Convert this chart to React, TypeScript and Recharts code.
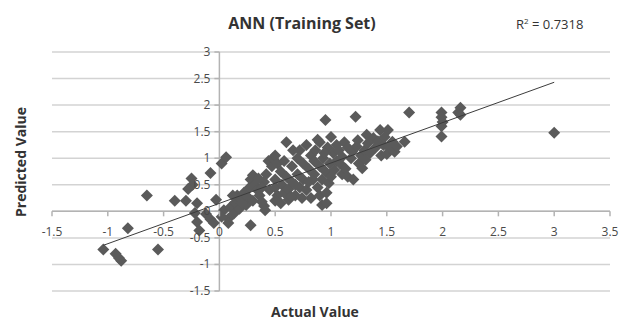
import React from 'react';
import {
  ScatterChart,
  Scatter,
  XAxis,
  YAxis,
  CartesianGrid,
  ReferenceLine,
} from 'recharts';

const xTicks = [-1.5, -1, -0.5, 0, 0.5, 1, 1.5, 2, 2.5, 3, 3.5];
const yTicks = [-1.5, -1, -0.5, 0, 0.5, 1, 1.5, 2, 2.5, 3];

const actual = [
  -1.04, -0.93, -0.9, -0.88, -0.82, -0.65, -0.55, -0.4, -0.3, -0.25, -0.24, -0.28,
  -0.2, -0.22, -0.2, -0.18, -0.12, -0.08, -0.05, -0.03, -0.08, 0.02, 0.06, 0.04, 0.08, 0.1, 0.14, 0.13, 0.08, 0.02,
  0.16, 0.2, 0.22, 0.25, 0.27, 0.28, 0.3, 0.32, 0.34, 0.36, 0.38, 0.4, 0.41, 0.28, 0.18, 0.24, 0.3, 0.35, 0.4, 0.42, 0.44, 0.45, 0.38, 0.12, 0.2,
  0.47, 0.48, 0.5, 0.52, 0.5, 0.5, 0.52, 0.5, 0.55, 0.56, 0.58, 0.58, 0.6, 0.6, 0.62, 0.62, 0.65, 0.65, 0.66, 0.68, 0.7, 0.7, 0.72, 0.72, 0.74, 0.75, 0.75, 0.55, 0.64, 0.68,
  0.78, 0.78, 0.8, 0.8, 0.82, 0.82, 0.85, 0.85, 0.86, 0.88, 0.88, 0.9, 0.9, 0.9, 0.92, 0.92, 0.93, 0.95, 0.95, 0.96, 0.96, 0.97, 0.98, 0.99, 1.0, 1.0, 1.02, 1.03, 1.05, 1.05, 0.84, 0.94,
  1.07, 1.08, 1.1, 1.1, 1.12, 1.13, 1.15, 1.15, 1.18, 1.19, 1.2, 1.22, 1.23, 1.24, 1.25, 1.27, 1.28, 1.3, 1.31, 1.32, 1.33, 1.35,
  1.38, 1.4, 1.42, 1.44, 1.45, 1.47, 1.48, 1.5, 1.51, 1.52, 1.55, 1.57, 1.59, 1.66, 1.7,
  1.99, 1.99, 2.0, 1.99, 1.99, 2.14, 2.16, 2.16, 3.0,
];

const predicted = [
  -0.72, -0.8, -0.88, -0.93, -0.32, 0.3, -0.72, 0.2, 0.2, 0.62, 0.5, 0.42,
  0.15, -0.03, -0.2, -0.36, -0.05, -0.15, -0.22, 0.22, 0.72, 0.9, 1.02, 0.02, -0.14, 0.08, 0.16, -0.04, -0.22, -0.1,
  0.3, 0.22, 0.35, 0.28, 0.45, 0.6, 0.68, 0.5, 0.4, 0.3, 0.18, 0.1, 0.02, -0.26, 0.05, 0.12, 0.2, 0.62, 0.55, 0.7, 0.95, 0.4, 0.45, 0.3, 0.15,
  0.85, 1.0, 1.05, 0.9, 0.6, 0.45, 0.3, 0.2, 0.75, 0.5, 0.35, 0.95, 0.65, 1.3, 0.22, 0.42, 0.55, 0.85, 1.15, 0.3, 0.7, 1.0, 0.45, 1.15, 0.25, 0.6, 0.9, 0.15, 0.28, 0.5,
  1.25, 0.4, 0.8, 0.55, 1.05, 0.25, 0.7, 0.95, 1.15, 0.45, 1.35, 0.3, 0.85, 1.3, 0.12, 0.6, 1.0, 1.72, 0.75, 0.35, 0.15, 1.2, 0.53, 0.9, 1.4, 0.65, 1.1, 0.78, 1.25, 0.95, 0.6, 1.1,
  1.15, 0.9, 1.03, 0.7, 1.3, 0.8, 1.2, 0.65, 1.0, 1.12, 0.6, 1.78, 1.22, 1.34, 0.9, 1.05, 0.81, 1.15, 0.97, 1.44, 1.28, 1.1,
  1.38, 1.2, 1.32, 1.53, 1.05, 1.25, 1.4, 1.08, 1.53, 1.2, 1.31, 1.12, 1.22, 1.31, 1.86,
  1.86, 1.77, 1.68, 1.6, 1.41, 1.86, 1.95, 1.82, 1.48,
];

// linear trendline end points
const trendX = [-1.04, 3.0];
const trendY = [-0.64, 2.43];

const points = actual.map((x, i) => ({ x, y: predicted[i] }));
const trend = trendX.map((x, i) => ({ x, y: trendY[i] }));

const W = 621;
const H = 320;
const AXIS_W = 20;
const AXIS_H = 20;
const M = { top: 52, right: 11, bottom: 29 - AXIS_H, left: 52 - AXIS_W };
const PLOT_LEFT = 52;
const PLOT_BOTTOM = 29;
const X_MIN = -1.5;
const X_MAX = 3.5;
const Y_MIN = -1.5;
const Y_MAX = 3;
const plotW = W - PLOT_LEFT - M.right;
const plotH = H - M.top - PLOT_BOTTOM;
// where the axes cross (Excel style, at zero)
const x0 = PLOT_LEFT + ((0 - X_MIN) / (X_MAX - X_MIN)) * plotW;
const y0 = M.top + ((Y_MAX - 0) / (Y_MAX - Y_MIN)) * plotH;

const FONT = '"Open Sans", "Noto Sans", sans-serif';
const TICK_COLOR = '#4a4a4a';
const AXIS_COLOR = '#b3b3b3';

function XTick(props: any) {
  const { x, payload } = props;
  return (
    <g>
      <line x1={x} y1={y0} x2={x} y2={y0 + 5} stroke={AXIS_COLOR} strokeWidth={1.5} />
      <text x={x} y={y0 + 25} textAnchor="middle" fontSize={12} fontFamily={FONT} fill={TICK_COLOR}>
        {String(payload.value)}
      </text>
    </g>
  );
}

function YTick(props: any) {
  const { y, payload } = props;
  return (
    <g>
      <line x1={x0 - 5} y1={y} x2={x0} y2={y} stroke={AXIS_COLOR} strokeWidth={1.5} />
      <text x={x0 - 9} y={y + 4} textAnchor="end" fontSize={12} fontFamily={FONT} fill={TICK_COLOR}>
        {String(payload.value)}
      </text>
    </g>
  );
}

function Diamond(props: any) {
  const { cx, cy } = props;
  const r = 6;
  return (
    <polygon
      points={`${cx},${cy - r} ${cx + r},${cy} ${cx},${cy + r} ${cx - r},${cy}`}
      fill="#5a5a5a"
    />
  );
}

export default function App() {
  return (
    <div style={{ width: W, height: H, position: 'relative', background: '#fff' }}>
      <style>{'body{margin:0}'}</style>
      <ScatterChart width={W} height={H} margin={M}>
        <CartesianGrid vertical={false} stroke="#d3d3d3" strokeWidth={1.5} />
        <XAxis
          type="number"
          dataKey="x"
          domain={[X_MIN, X_MAX]}
          ticks={xTicks}
          height={AXIS_H}
          axisLine={false}
          tickLine={false}
          tick={<XTick />}
          interval={0}
        />
        <YAxis
          type="number"
          dataKey="y"
          domain={[Y_MIN, Y_MAX]}
          ticks={yTicks}
          width={AXIS_W}
          axisLine={false}
          tickLine={false}
          tick={<YTick />}
          interval={0}
        />
        <ReferenceLine y={0} stroke={AXIS_COLOR} strokeWidth={1.5} />
        <ReferenceLine x={0} stroke={AXIS_COLOR} strokeWidth={1.5} />
        <Scatter data={points} shape={<Diamond />} isAnimationActive={false} />
        <Scatter
          data={trend}
          line={{ stroke: '#3c3c3c', strokeWidth: 1 }}
          shape={() => <g />}
          isAnimationActive={false}
        />
      </ScatterChart>
      <div
        style={{
          position: 'absolute',
          left: 302,
          top: 12,
          transform: 'translateX(-50%)',
          fontFamily: FONT,
          fontWeight: 700,
          fontSize: 16,
          color: '#333',
          whiteSpace: 'nowrap',
        }}
      >
        ANN (Training Set)
      </div>
      <div
        style={{
          position: 'absolute',
          left: 516,
          top: 15,
          fontFamily: FONT,
          fontSize: 13,
          color: '#333',
          whiteSpace: 'nowrap',
        }}
      >
        R<sup style={{ fontSize: 8 }}>2</sup> = 0.7318
      </div>
      <div
        style={{
          position: 'absolute',
          left: 20,
          top: 162,
          transform: 'translate(-50%, -50%) rotate(-90deg)',
          fontFamily: FONT,
          fontWeight: 700,
          fontSize: 14,
          color: '#333',
          whiteSpace: 'nowrap',
        }}
      >
        Predicted Value
      </div>
      <div
        style={{
          position: 'absolute',
          left: 315,
          top: 302,
          transform: 'translateX(-50%)',
          fontFamily: FONT,
          fontWeight: 700,
          fontSize: 14,
          color: '#333',
          whiteSpace: 'nowrap',
        }}
      >
        Actual Value
      </div>
    </div>
  );
}
